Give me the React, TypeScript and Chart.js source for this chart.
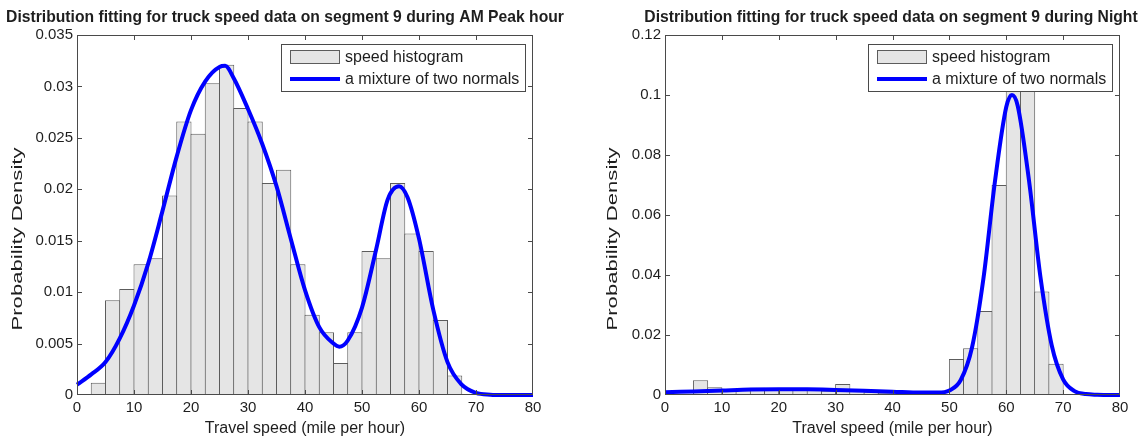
import React, { useEffect, useRef } from "react";
import { Chart, registerables } from "chart.js";

Chart.register(...registerables);

const FONT = '"Liberation Sans", Arial, Helvetica, sans-serif';
const TEXT = "#1e1e1e";
const FRAME = "#4a4a4a";
const BAR_FILL = "#e5e5e5";
const BAR_EDGE = "#5c5c5c";
const CURVE = "#0000ff";
const BIN_WIDTH = 2.5;

// ---------- shared axis data ----------
const xTicks = [0, 10, 20, 30, 40, 50, 60, 70, 80];
const xTickLabels = ["0", "10", "20", "30", "40", "50", "60", "70", "80"];
const legendLabels = ["speed histogram", "a mixture of two normals"];
const xAxisTitle = "Travel speed (mile per hour)";
const yAxisTitle = "Probability Density";

// ---------- AM Peak panel ----------
const amTitle = "Distribution fitting for truck speed data on segment 9 during AM Peak hour";
const amBinStarts = [2.5, 5, 7.5, 10, 12.5, 15, 17.5, 20, 22.5, 25, 27.5, 30, 32.5, 35, 37.5, 40, 42.5, 45, 47.5, 50, 52.5, 55, 57.5, 60, 62.5, 65];
const amDensity = [0.0012, 0.0092, 0.0103, 0.0127, 0.0133, 0.0194, 0.0266, 0.0254, 0.0303, 0.0321, 0.0279, 0.0266, 0.0206, 0.0219, 0.0127, 0.0078, 0.0061, 0.0031, 0.0061, 0.014, 0.0133, 0.0206, 0.0157, 0.014, 0.0073, 0.0019];
const amCurveX = [0, 2.5, 5, 7.5, 10, 12.5, 15, 17.5, 20, 22.5, 25, 26, 27.5, 30, 32.5, 35, 37.5, 40, 42.5, 45, 46, 47.5, 50, 52.5, 54.5, 56.5, 58, 60, 62.5, 65, 67.5, 70, 72.5, 75, 80];
const amCurveY = [0.001, 0.002, 0.0032, 0.0055, 0.0087, 0.0128, 0.0179, 0.0232, 0.0277, 0.0305, 0.0319, 0.032, 0.0308, 0.0278, 0.0244, 0.0203, 0.0152, 0.0102, 0.0066, 0.005, 0.0047, 0.0053, 0.0085, 0.0142, 0.019, 0.0203, 0.0192, 0.0152, 0.0083, 0.0032, 0.001, 0.0002, 0.00003, 0, 0];
const amYTicks = [0, 0.005, 0.01, 0.015, 0.02, 0.025, 0.03, 0.035];
const amYTickLabels = ["0", "0.005", "0.01", "0.015", "0.02", "0.025", "0.03", "0.035"];

// ---------- Night panel ----------
const nightTitle = "Distribution fitting for truck speed data on segment 9 during Night";
const nightBinStarts = [5, 7.5, 10, 12.5, 15, 17.5, 20, 22.5, 25, 27.5, 30, 32.5, 35, 37.5, 40, 42.5, 45, 47.5, 50, 52.5, 55, 57.5, 60, 62.5, 65, 67.5];
const nightDensity = [0.0049, 0.0026, 0.0018, 0.0016, 0.0024, 0.0017, 0.0019, 0.0019, 0.0017, 0.0014, 0.0037, 0.0014, 0.0009, 0.0006, 0.0003, 0.0002, 0.0002, 0.0002, 0.012, 0.0156, 0.028, 0.07, 0.1015, 0.106, 0.0345, 0.0104];
const nightCurveX = [0, 5, 10, 15, 20, 25, 30, 35, 40, 45, 48, 50, 52, 54, 56, 58, 60, 61, 62, 64, 66, 68, 70, 72, 74, 76, 80];
const nightCurveY = [0.0009, 0.0012, 0.0015, 0.0018, 0.0019, 0.0019, 0.0017, 0.0014, 0.0011, 0.0008, 0.0008, 0.0015, 0.005, 0.016, 0.039, 0.071, 0.096, 0.1, 0.0965, 0.0715, 0.0395, 0.0165, 0.0052, 0.0013, 0.0003, 0.0001, 0];
const nightYTicks = [0, 0.02, 0.04, 0.06, 0.08, 0.1, 0.12];
const nightYTickLabels = ["0", "0.02", "0.04", "0.06", "0.08", "0.1", "0.12"];

type PanelCfg = {
  title: string;
  binStarts: number[];
  density: number[];
  curveX: number[];
  curveY: number[];
  yTicks: number[];
  yTickLabels: string[];
  canvasLeft: number;
  canvasWidth: number;
  area: { left: number; right: number; top: number; bottom: number };
  titleX: number;
  ylabelX: number;
};

const H = 439;

const panels: PanelCfg[] = [
  {
    title: amTitle,
    binStarts: amBinStarts,
    density: amDensity,
    curveX: amCurveX,
    curveY: amCurveY,
    yTicks: amYTicks,
    yTickLabels: amYTickLabels,
    canvasLeft: 0,
    canvasWidth: 573,
    area: { left: 77, right: 533, top: 35, bottom: 395 },
    titleX: 285,
    ylabelX: 18,
  },
  {
    title: nightTitle,
    binStarts: nightBinStarts,
    density: nightDensity,
    curveX: nightCurveX,
    curveY: nightCurveY,
    yTicks: nightYTicks,
    yTickLabels: nightYTickLabels,
    canvasLeft: 573,
    canvasWidth: 574,
    area: { left: 92, right: 547, top: 35, bottom: 395 },
    titleX: 318,
    ylabelX: 40,
  },
];

function makeDecor(cfg: PanelCfg) {
  return {
    id: "decor",
    afterDatasetsDraw(chart: any) {
      const ctx = chart.ctx as CanvasRenderingContext2D;
      const { left, right, top, bottom } = chart.chartArea;
      const xs = chart.scales.x;
      const ys = chart.scales.y;
      ctx.save();
      ctx.strokeStyle = FRAME;
      ctx.lineWidth = 1;
      ctx.strokeRect(left + 0.5, top + 0.5, right - left - 1, bottom - top - 1);
      ctx.beginPath();
      xTicks.forEach((v) => {
        const px = Math.round(xs.getPixelForValue(v)) + 0.5;
        if (px <= left + 1 || px >= right - 1) return;
        ctx.moveTo(px, bottom);
        ctx.lineTo(px, bottom - 5);
        ctx.moveTo(px, top);
        ctx.lineTo(px, top + 5);
      });
      cfg.yTicks.forEach((v) => {
        const py = Math.round(ys.getPixelForValue(v)) + 0.5;
        if (py <= top + 1 || py >= bottom - 1) return;
        ctx.moveTo(left, py);
        ctx.lineTo(left + 5, py);
        ctx.moveTo(right, py);
        ctx.lineTo(right - 5, py);
      });
      ctx.stroke();
      ctx.restore();
    },
    afterDraw(chart: any) {
      const ctx = chart.ctx as CanvasRenderingContext2D;
      const { left, right, top, bottom } = chart.chartArea;
      ctx.save();
      // title
      ctx.fillStyle = TEXT;
      ctx.font = `bold 15.7px ${FONT}`;
      ctx.textAlign = "center";
      ctx.textBaseline = "middle";
      ctx.fillText(cfg.title, cfg.titleX, 18);
      // x axis title
      ctx.font = `16px ${FONT}`;
      ctx.textBaseline = "alphabetic";
      ctx.fillText(xAxisTitle, (left + right) / 2, 433);
      // y axis title (stretched along its length like the source)
      ctx.save();
      ctx.font = `15px ${FONT}`;
      const w = ctx.measureText(yAxisTitle).width;
      ctx.translate(cfg.ylabelX, 239);
      ctx.rotate(-Math.PI / 2);
      ctx.scale(183 / w, 1);
      ctx.textAlign = "center";
      ctx.textBaseline = "middle";
      ctx.fillText(yAxisTitle, 0, 0);
      ctx.restore();
      // legend
      const lr = right - 7;
      const ll = lr - 245;
      const lt = 44;
      const lb = 92;
      ctx.fillStyle = "#ffffff";
      ctx.fillRect(ll, lt, lr - ll, lb - lt);
      ctx.strokeStyle = FRAME;
      ctx.lineWidth = 1;
      ctx.strokeRect(ll + 0.5, lt + 0.5, lr - ll - 1, lb - lt - 1);
      ctx.fillStyle = BAR_FILL;
      ctx.fillRect(ll + 9, 50, 50, 14);
      ctx.strokeStyle = BAR_EDGE;
      ctx.strokeRect(ll + 9.5, 50.5, 49, 13);
      ctx.strokeStyle = CURVE;
      ctx.lineWidth = 4;
      ctx.beginPath();
      ctx.moveTo(ll + 9, 79);
      ctx.lineTo(ll + 59, 79);
      ctx.stroke();
      ctx.fillStyle = TEXT;
      ctx.font = `16px ${FONT}`;
      ctx.textAlign = "left";
      ctx.textBaseline = "middle";
      ctx.fillText(legendLabels[0], ll + 64, 57.5);
      ctx.fillText(legendLabels[1], ll + 64, 79.5);
      ctx.restore();
    },
  };
}

function Panel({ cfg }: { cfg: PanelCfg }) {
  const ref = useRef<HTMLCanvasElement>(null);
  useEffect(() => {
    const canvas = ref.current;
    if (!canvas) return;
    const a = cfg.area;
    const barPx = ((a.right - a.left) / 80) * BIN_WIDTH;
    const chart = new Chart(canvas, {
      type: "bar",
      data: {
        datasets: [
          {
            type: "line",
            label: legendLabels[1],
            data: cfg.curveX.map((x, i) => ({ x, y: cfg.curveY[i] })),
            borderColor: CURVE,
            backgroundColor: CURVE,
            borderWidth: 4,
            pointRadius: 0,
            cubicInterpolationMode: "monotone",
            clip: false,
            order: 0,
          } as any,
          {
            type: "bar",
            label: legendLabels[0],
            data: cfg.binStarts.map((s, i) => ({ x: s + BIN_WIDTH / 2, y: cfg.density[i] })),
            backgroundColor: BAR_FILL,
            borderColor: BAR_EDGE,
            borderWidth: 1,
            borderSkipped: false,
            inflateAmount: 0,
            barPercentage: (barPx + 1) / barPx,
            categoryPercentage: 1,
            order: 1,
          } as any,
        ],
      },
      options: {
        animation: false,
        responsive: false,
        maintainAspectRatio: false,
        events: [],
        layout: {
          padding: { top: a.top, left: 0, right: cfg.canvasWidth - a.right, bottom: 0 },
        },
        plugins: {
          legend: { display: false },
          title: { display: false },
          tooltip: { enabled: false },
        },
        scales: {
          x: {
            type: "linear",
            min: 0,
            max: 80,
            offset: false,
            grid: { display: false, drawTicks: false },
            border: { display: false },
            afterBuildTicks: (s: any) => {
              s.ticks = xTicks.map((v) => ({ value: v }));
            },
            afterFit: (s: any) => {
              s.height = H - a.bottom;
            },
            ticks: {
              autoSkip: false,
              maxRotation: 0,
              padding: 4,
              color: TEXT,
              font: { family: FONT, size: 15 },
              callback: (_v: any, i: number) => xTickLabels[i],
            },
          },
          y: {
            type: "linear",
            min: 0,
            max: cfg.yTicks[cfg.yTicks.length - 1],
            grid: { display: false, drawTicks: false },
            border: { display: false },
            afterBuildTicks: (s: any) => {
              s.ticks = cfg.yTicks.map((v) => ({ value: v }));
            },
            afterFit: (s: any) => {
              s.width = a.left;
            },
            ticks: {
              autoSkip: false,
              padding: 4,
              color: TEXT,
              font: { family: FONT, size: 15 },
              callback: (_v: any, i: number) => cfg.yTickLabels[i],
            },
          },
        },
      } as any,
      plugins: [makeDecor(cfg)],
    });
    return () => chart.destroy();
  }, [cfg]);
  return (
    <canvas
      ref={ref}
      width={cfg.canvasWidth}
      height={H}
      style={{ position: "absolute", left: cfg.canvasLeft, top: 0, width: cfg.canvasWidth, height: H }}
    />
  );
}

export default function App() {
  return (
    <div style={{ position: "absolute", left: 0, top: 0, width: 1147, height: H, background: "#ffffff", overflow: "hidden" }}>
      {panels.map((p, i) => (
        <Panel key={i} cfg={p} />
      ))}
    </div>
  );
}
